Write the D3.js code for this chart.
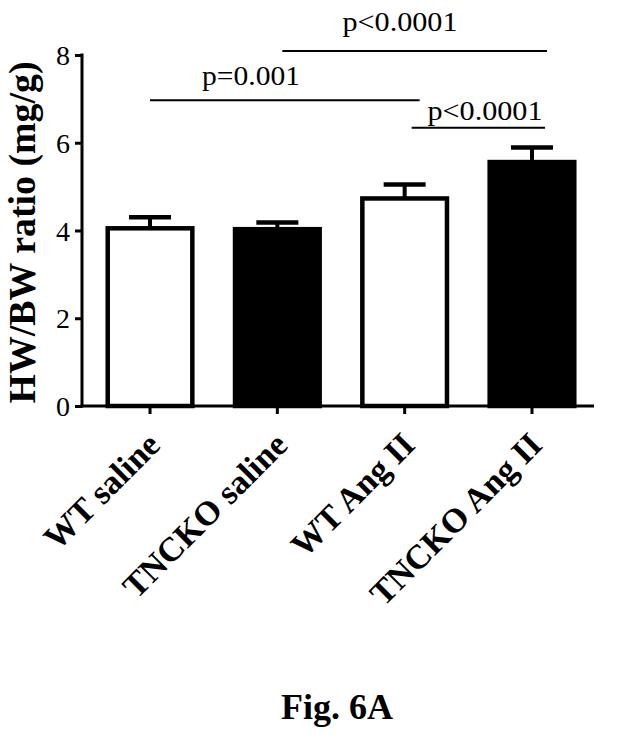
<!DOCTYPE html>
<html>
<head>
<meta charset="utf-8">
<script src="https://cdn.jsdelivr.net/npm/d3@7"></script>
<style>
  body { margin: 0; background: #fff; }
  svg text { font-family: "Liberation Serif", "Times New Roman", serif; fill: #000; }
</style>
</head>
<body>
<div class="chart"></div>
<script>
// groups and their HW/BW ratio (mean, SEM)
var categories = ["WT saline", "TNCKO saline", "WT Ang II", "TNCKO Ang II"];
var means = [4.05, 4.03, 4.73, 5.56];
var errors = [0.25, 0.15, 0.32, 0.33];
var fills = ["#fff", "#000", "#fff", "#000"];
var yTicks = [0, 2, 4, 6, 8];

// significance brackets: from group, to group, label, height in data units
var compFrom = [1, 0, 2];
var compTo = [3, 2, 3];
var compLabels = ["p<0.0001", "p=0.001", "p<0.0001"];
var compLevels = [8.09, 6.97, 6.34];

function chart() {
    var width = 624, height = 735;

    var svg = d3.select(".chart").append("svg")
        .attr("width", width)
        .attr("height", height);

    //setup x
    var x = d3.scaleBand()
        .domain(categories)
        .range([80, 602])
        .paddingInner(0.3)
        .paddingOuter(0.2);

    //setup y
    var y = d3.scaleLinear().domain([0, 8]).range([406, 55]);

    var sw = 4.5;

    // bars
    svg.selectAll(".bar")
        .data(categories)
        .enter().append("rect")
        .attr("class", "bar")
        .attr("x", function (d) { return x(d) + sw / 2; })
        .attr("width", x.bandwidth() - sw)
        .attr("y", function (d, i) { return y(means[i]); })
        .attr("height", function (d, i) { return y(0) - y(means[i]); })
        .style("fill", function (d, i) { return fills[i]; })
        .style("stroke", "#000")
        .style("stroke-width", sw);

    // error bars (upper only)
    var cx = function (d) { return x(d) + x.bandwidth() / 2; };
    svg.selectAll(".err")
        .data(categories)
        .enter().append("line")
        .attr("class", "err")
        .attr("x1", cx).attr("x2", cx)
        .attr("y1", function (d, i) { return y(means[i]); })
        .attr("y2", function (d, i) { return y(means[i] + errors[i]); })
        .style("stroke", "#000")
        .style("stroke-width", 4);

    svg.selectAll(".cap")
        .data(categories)
        .enter().append("line")
        .attr("class", "cap")
        .attr("x1", function (d) { return cx(d) - 21; })
        .attr("x2", function (d) { return cx(d) + 21; })
        .attr("y1", function (d, i) { return y(means[i] + errors[i]); })
        .attr("y2", function (d, i) { return y(means[i] + errors[i]); })
        .style("stroke", "#000")
        .style("stroke-width", 4.5);

    // y-axis
    var yAxis = d3.axisLeft(y).tickValues(yTicks).tickSize(7).tickPadding(5).tickSizeOuter(0);
    var gy = svg.append("g")
        .attr("class", "y axis")
        .attr("transform", "translate(82,0)")
        .call(yAxis);
    gy.select(".domain").style("stroke-width", 3).attr("d", "M0," + (y(8) - 1.5) + "V" + (y(0) + 1.5));
    gy.selectAll(".tick line").style("stroke-width", 3);
    gy.selectAll(".tick text")
        .style("font-size", "28px")
        .attr("dy", "0.34em");

    // x-axis
    var xAxis = d3.axisBottom(x).tickSize(8).tickSizeOuter(0).tickFormat("");
    var gx = svg.append("g")
        .attr("class", "x axis")
        .attr("transform", "translate(0," + y(0) + ")")
        .call(xAxis);
    gx.select(".domain").attr("d", "M80.5,0H594").style("stroke-width", 3);
    gx.selectAll(".tick line").style("stroke-width", 3);

    // category labels, rotated
    svg.selectAll(".cat")
        .data(categories)
        .enter().append("text")
        .attr("class", "cat")
        .attr("transform", function (d) {
            return "translate(" + (cx(d) + 12) + "," + (y(0) + 41) + ") rotate(-45)";
        })
        .style("text-anchor", "end")
        .style("font-weight", "bold")
        .style("font-size", "34px")
        .text(function (d) { return d; });

    // y-axis title
    svg.append("text")
        .attr("class", "label")
        .attr("transform", "translate(35," + ((y(0) + y(8)) / 2 + 2) + ") rotate(-90)")
        .style("text-anchor", "middle")
        .style("font-weight", "bold")
        .style("font-size", "37px")
        .attr("textLength", 342)
        .attr("lengthAdjust", "spacingAndGlyphs")
        .text("HW/BW ratio (mg/g)");

    // significance brackets
    var fromShift = [5, 0, 7];
    var toShift = [15, 15, 13];
    var textX = [400, 251, 485];
    var textGap = [20, 15, 8];
    var textWidth = [115, 98, 115];
    compLabels.forEach(function (lab, i) {
        var x1 = cx(categories[compFrom[i]]) + fromShift[i];
        var x2 = cx(categories[compTo[i]]) + toShift[i];
        var ly = y(compLevels[i]);
        svg.append("line")
            .attr("x1", x1).attr("x2", x2)
            .attr("y1", ly).attr("y2", ly)
            .style("stroke", "#000")
            .style("stroke-width", 2);
        svg.append("text")
            .attr("x", textX[i])
            .attr("y", ly - textGap[i])
            .style("text-anchor", "middle")
            .style("font-size", "28px")
            .attr("textLength", textWidth[i])
            .attr("lengthAdjust", "spacingAndGlyphs")
            .text(lab);
    });

    // figure caption
    svg.append("text")
        .attr("x", 337)
        .attr("y", 719)
        .style("text-anchor", "middle")
        .style("font-weight", "bold")
        .style("font-size", "36px")
        .text("Fig. 6A");
}

chart();
</script>
</body>
</html>
